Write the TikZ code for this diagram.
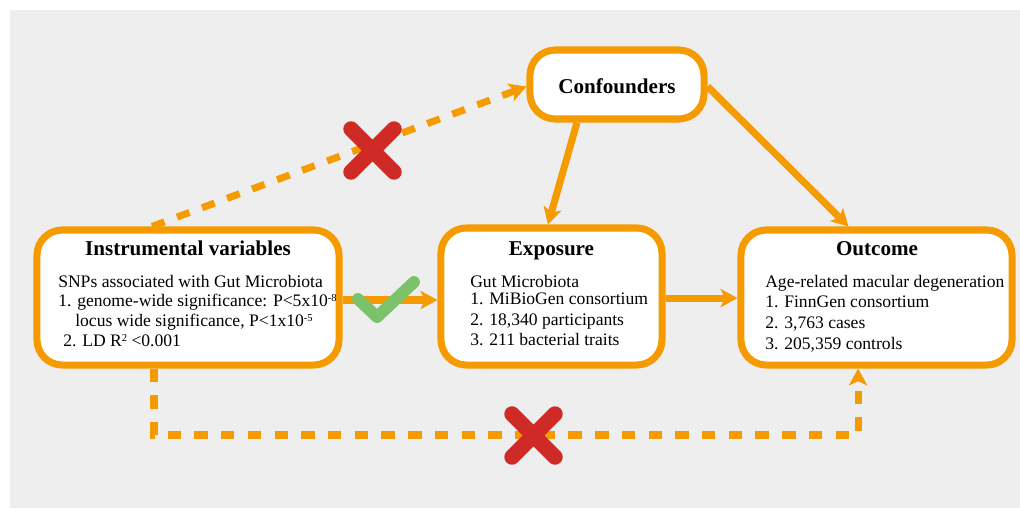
\documentclass[tikz,border=0pt]{standalone}
\usepackage{fontspec}
\setmainfont{Liberation Serif}
\usetikzlibrary{arrows.meta,calc}
\definecolor{org}{HTML}{F59B00}
\definecolor{bgc}{HTML}{EEEEEE}
\definecolor{xred}{HTML}{D02A26}
\definecolor{okgreen}{HTML}{7CC26B}
\newcommand{\smsup}[1]{\raisebox{0.62ex}{\fontsize{7.5}{8}\selectfont #1}}
\tikzset{
  box/.style={draw=org, line width=5pt, fill=white, rounded corners=18pt, inner sep=0pt},
  ttl/.style={font=\fontsize{15}{17}\selectfont\bfseries, anchor=base, inner sep=0pt},
  body/.style={font=\fontsize{12.5}{14}\selectfont, anchor=base west, inner sep=0pt},
  conn/.style={draw=org, line width=5pt, -{Stealth[length=12pt,width=13pt,inset=3pt]}},
  dconn/.style={conn, dash pattern=on 9.5pt off 9.5pt},
  xmark/.style={draw=xred, line width=11pt, line cap=round},
  okmark/.style={draw=okgreen, line width=8.5pt, line cap=round, line join=round},
}
\begin{document}
\begin{tikzpicture}[x=0.025cm, y=-0.025cm]
\useasboundingbox (0,0) rectangle (1020,508);
\fill[bgc] (10,10) rectangle (1020,508);

% boxes
\node[box, minimum width=7.55cm, minimum height=3.375cm] (iv) at (188,297.5) {};
\node[box, minimum width=4.35cm, minimum height=1.725cm] (conf) at (617,84.5) {};
\node[box, minimum width=5.525cm, minimum height=3.425cm] (exp) at (551.5,296.5) {};
\node[box, minimum width=6.775cm, minimum height=3.375cm] (out) at (876.5,297.5) {};

% titles
\node[ttl] (ivt) at (188,255) {Instrumental variables};
\node[ttl] (conft) at (617,93) {Confounders};
\node[ttl] (expt) at (551.5,255) {Exposure};
\node[ttl] (outt) at (877,255) {Outcome};

% IV body
\node[body] (iv1) at (58,287) {SNPs associated with Gut Microbiota};
\node[body] (iv2) at (58,306) {1. genome-wide significance: P<5x10\smsup{-8}};
\node[body] (iv3) at (75,326) {locus wide significance, P<1x10\smsup{-5}};
\node[body] (iv4) at (63,346) {2. LD R\smsup{2} <0.001};

% Exposure body
\node[body] (ex1) at (470,287) {Gut Microbiota};
\node[body] (ex2) at (470,304) {1. MiBioGen consortium};
\node[body] (ex3) at (470,325) {2. 18,340 participants};
\node[body] (ex4) at (470,345) {3. 211 bacterial traits};

% Outcome body
\node[body] (oc1) at (765,287) {Age-related macular degeneration};
\node[body] (oc2) at (765,307) {1. FinnGen consortium};
\node[body] (oc3) at (765,328) {2. 3,763 cases};
\node[body] (oc4) at (765,349) {3. 205,359 controls};

% connectors
\coordinate (ive) at ([yshift=-0.0625cm]iv.east);
\coordinate (expe) at ([yshift=-0.04cm]exp.east);
\draw[conn] (ive) -- (ive -| exp.west);
\draw[conn] (expe) -- (expe -| out.west);
\draw[conn] ([xshift=-1cm]conf.south) -- ([xshift=-0.09cm]exp.north);
\draw[conn] ([yshift=-0.05cm]conf.east) -- ([xshift=-0.7cm]out.north);
\draw[dconn] ([xshift=-0.9cm]iv.north) -- ([yshift=-0.05cm]conf.west);
\coordinate (ivb) at ([xshift=-0.85cm]iv.south);
\coordinate (outb) at ([xshift=-0.46cm]out.south);
\coordinate (corner) at (ivb |- 0,435);
\draw[dconn] (ivb) -- (corner) -| (outb);

% marks
\draw[xmark] (351,129) -- (394,172) (351,172) -- (394,129);
\draw[xmark] (512,414) -- (555,457) (512,457) -- (555,414);
\draw[okmark] (358,299) -- (377,317) -- (414,282);
\end{tikzpicture}
\end{document}
